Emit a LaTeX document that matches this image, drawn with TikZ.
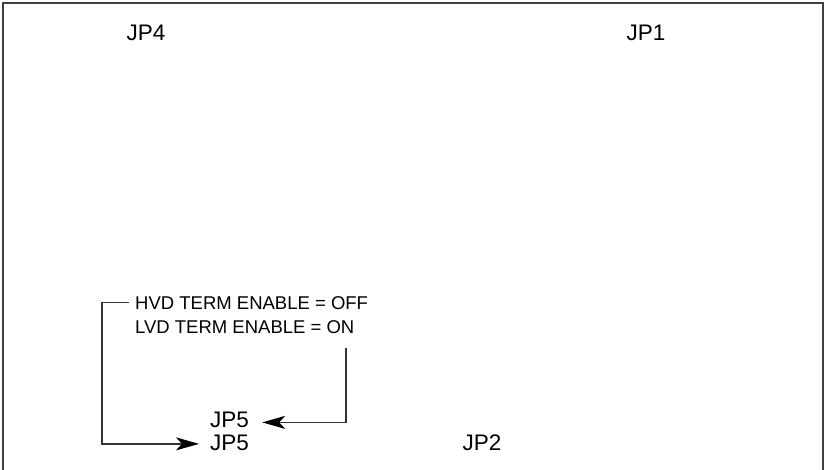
\documentclass[tikz,border=0pt]{standalone}
\usepackage{fontspec}
\setmainfont{Liberation Sans}
\usetikzlibrary{arrows.meta}
\begin{document}
\begin{tikzpicture}[x=1pt,y=-1pt,
  frameline/.style={draw=black!75,line width=1.3pt},
  conn/.style={draw=black!80,line width=1.5pt},
  arr/.style={conn,-{Stealth[length=23pt,width=13pt,inset=6pt,color=black]}},
  biglabel/.style={inner sep=0pt,anchor=base,font=\fontsize{22.5}{26}\selectfont},
  biglabelw/.style={inner sep=0pt,anchor=base west,font=\fontsize{22.5}{26}\selectfont},
  smalllabel/.style={inner sep=0pt,anchor=base west,font=\fontsize{18.5}{22}\selectfont}]
\useasboundingbox (0,0) rectangle (827,469);
\draw[frameline] (3,470) -- (3,3) -- (823,3) -- (823,470);
\node[biglabel] (jp4) at (146,40) {JP4};
\node[biglabel] (jp1) at (646,40) {JP1};
\node[biglabel] (jp2) at (482,450) {JP2};
\node[biglabelw] (jp5a) at (210,427) {JP5};
\node[biglabelw] (jp5b) at (210,450) {JP5};
\node[smalllabel] (hvd) at (135,309) {HVD TERM ENABLE = OFF};
\node[smalllabel] (lvd) at (135,333) {LVD TERM ENABLE = ON};
\coordinate (lvdend) at (346,348);
\draw[arr] ([xshift=-6pt]hvd.west) -- ++(-27,0) |- ([xshift=-11pt,yshift=-1.5pt]jp5b.west);
\draw[arr] (lvdend) |- ([xshift=13pt,yshift=-3pt]jp5a.east);
\end{tikzpicture}
\end{document}
